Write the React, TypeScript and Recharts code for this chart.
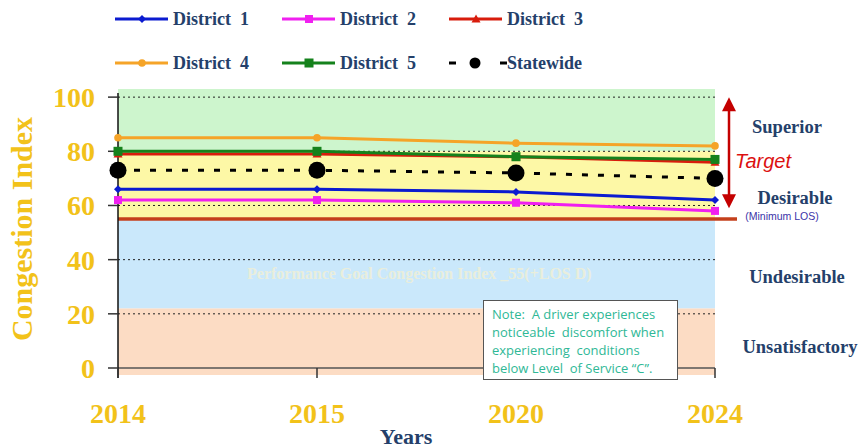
import React from 'react'
import { LineChart, Line, XAxis, YAxis, ReferenceArea, ReferenceLine } from 'recharts'

// values
const years = ['2014', '2015', '2020', '2024']
const district1 = [66, 66, 65, 62]
const district2 = [62, 62, 61, 58]
const district3 = [79, 79, 78, 76]
const district4 = [85, 85, 83, 82]
const district5 = [80, 80, 78, 77]
const statewide = [73, 73, 72, 70]
const yTicks = [0, 20, 40, 60, 80, 100]
const gridValues = [20, 40, 60, 80, 100]
const performanceGoal = 55
const targetRange = [100, 59]

// level-of-service bands (value ranges)
const superiorBand = [80, 103]
const desirableBand = [55, 80]
const undesirableBand = [22, 55]
const unsatisfactoryBand = [-2.6, 22]

const GOLD = '#f2c21a'
const NAVY = '#24406a'
const SERIF = '"Liberation Serif", "Times New Roman", serif'

const data = years.map((year, i) => ({
  year,
  d1: district1[i],
  d2: district2[i],
  d3: district3[i],
  d4: district4[i],
  d5: district5[i],
  state: statewide[i]
}))

const diamond = (color: string, r: number) => (p: any) => (
  <path key={`dm-${p.index}`} d={`M${p.cx},${p.cy - r}L${p.cx + r},${p.cy}L${p.cx},${p.cy + r}L${p.cx - r},${p.cy}Z`} fill={color} />
)
const square = (color: string, s: number) => (p: any) => (
  <rect key={`sq-${p.index}`} x={p.cx - s / 2} y={p.cy - s / 2} width={s} height={s} fill={color} />
)
const triangle = (color: string, r: number) => (p: any) => (
  <path key={`tr-${p.index}`} d={`M${p.cx},${p.cy - r}L${p.cx + r},${p.cy + r * 0.8}L${p.cx - r},${p.cy + r * 0.8}Z`} fill={color} />
)
const circle = (color: string, r: number) => (p: any) => (
  <circle key={`c-${p.index}`} cx={p.cx} cy={p.cy} r={r} fill={color} />
)

const series = [
  { key: 'd1', name: 'District  1', color: '#0b1bd0', dot: diamond('#0b1bd0', 4), dash: undefined as string | undefined },
  { key: 'd2', name: 'District  2', color: '#f020f0', dot: square('#f020f0', 8), dash: undefined },
  { key: 'd3', name: 'District  3', color: '#d81c0c', dot: triangle('#d81c0c', 4.5), dash: undefined },
  { key: 'd4', name: 'District  4', color: '#f5a428', dot: circle('#f5a428', 3.8), dash: undefined },
  { key: 'd5', name: 'District  5', color: '#15821c', dot: square('#15821c', 9), dash: undefined },
  { key: 'state', name: 'Statewide', color: '#000000', dot: circle('#000000', 8.5), dash: '6 10' }
]

const YTick = (props: any) => (
  <text x={props.x} y={props.y} dy={10} textAnchor="end" fill={GOLD} fontFamily={SERIF} fontWeight="bold" fontSize={28}>
    {props.payload.value}
  </text>
)

const XTick = (props: any) => (
  <text x={props.x} y={props.y} dy={45} textAnchor="middle" fill={GOLD} fontFamily={SERIF} fontWeight="bold" fontSize={28}>
    {props.payload.value}
  </text>
)

const TargetArrow = (p: any) => {
  const x = p.x1 + 14
  const top = p.y1
  const bottom = p.y2
  const h = 14
  const w = 7
  return (
    <g>
      <line x1={x} y1={top + h - 2} x2={x} y2={bottom - h + 2} stroke="#c40000" strokeWidth={2.5} />
      <path d={`M${x},${top}L${x + w},${top + h}L${x - w},${top + h}Z`} fill="#c40000" />
      <path d={`M${x},${bottom}L${x + w},${bottom - h}L${x - w},${bottom - h}Z`} fill="#c40000" />
    </g>
  )
}

const legendPos = [
  { x: 115, y: 19 },
  { x: 282, y: 19 },
  { x: 449, y: 19 },
  { x: 115, y: 63 },
  { x: 282, y: 63 },
  { x: 449, y: 63 }
]

function LegendBox() {
  return (
    <svg width={863} height={85} style={{ position: 'absolute', left: 0, top: 0 }}>
      {series.map((s, i) => {
        const { x, y } = legendPos[i]
        const Dot = s.dot
        if (s.key === 'state') {
          return (
            <g key={s.key}>
              <line x1={x} y1={y} x2={x + 7} y2={y} stroke="#000" strokeWidth={3} />
              <circle cx={x + 26} cy={y} r={5.5} fill="#000" />
              <line x1={x + 51} y1={y} x2={x + 58} y2={y} stroke="#000" strokeWidth={3} />
              <text x={x + 58} y={y + 6} fill={NAVY} fontFamily={SERIF} fontWeight="bold" fontSize={18}>{s.name}</text>
            </g>
          )
        }
        return (
          <g key={s.key}>
            <line x1={x} y1={y} x2={x + 53} y2={y} stroke={s.color} strokeWidth={3} />
            {Dot({ cx: x + 27, cy: y, index: i })}
            <text x={x + 58} y={y + 6} fill={NAVY} fontFamily={SERIF} fontWeight="bold" fontSize={18} xmlSpace="preserve">{s.name}</text>
          </g>
        )
      })}
    </svg>
  )
}

const bandLabel = (cx: number, cy: number): React.CSSProperties => ({
  position: 'absolute',
  left: cx - 80,
  top: cy - 12,
  width: 160,
  textAlign: 'center',
  fontFamily: SERIF,
  fontWeight: 'bold',
  fontSize: 18.5,
  color: NAVY,
  lineHeight: '24px'
})

export default function App() {
  return (
    <div style={{ position: 'absolute', left: 0, top: 0, width: 863, height: 448, background: '#fff', overflow: 'hidden' }}>
      <LineChart width={863} height={448} data={data} margin={{ top: 89, right: 126, bottom: 20, left: 8 }}>
        <ReferenceArea y1={superiorBand[0]} y2={superiorBand[1]} fill="#cdf5cd" fillOpacity={1} ifOverflow="visible" />
        <ReferenceArea y1={desirableBand[0]} y2={desirableBand[1]} fill="#fdf8a6" fillOpacity={1} ifOverflow="visible" />
        <ReferenceArea y1={undesirableBand[0]} y2={undesirableBand[1]} fill="#cae8fb" fillOpacity={1} ifOverflow="visible" />
        <ReferenceArea y1={unsatisfactoryBand[0]} y2={unsatisfactoryBand[1]} fill="#fcdcc4" fillOpacity={1} ifOverflow="visible" />
        <XAxis
          dataKey="year"
          height={60}
          padding={{ left: 0, right: 22 }}
          axisLine={false}
          tickLine={{ stroke: '#333', strokeWidth: 1.5 }}
          tickSize={10}
          tickMargin={0}
          tick={<XTick />}
        />
        <YAxis
          type="number"
          domain={[0, 103]}
          ticks={yTicks}
          width={110}
          axisLine={false}
          tickLine={{ stroke: '#333', strokeWidth: 1.5 }}
          tickSize={10}
          tickMargin={13}
          tick={<YTick />}
        />
        {gridValues.map((v) => (
          <ReferenceLine
            key={`g${v}`}
            segment={[{ x: years[0], y: v }, { x: years[years.length - 1], y: v }]}
            stroke="#222"
            strokeDasharray="2 3"
            strokeWidth={1}
          />
        ))}
        <ReferenceLine y={performanceGoal} stroke="#c4401c" strokeWidth={3.5} />
        <ReferenceLine segment={[{ x: years[0], y: 0 }, { x: years[years.length - 1], y: 0 }]} stroke="#555" strokeWidth={1.5} />
        <ReferenceLine segment={[{ x: years[0], y: 101.5 }, { x: years[0], y: -3.7 }]} stroke="#111" strokeWidth={1.5} ifOverflow="visible" />
        <ReferenceLine
          segment={[{ x: years[years.length - 1], y: targetRange[0] }, { x: years[years.length - 1], y: targetRange[1] }]}
          shape={TargetArrow}
          ifOverflow="visible"
        />
        {series.map((s) => (
          <Line
            key={s.key}
            type="linear"
            dataKey={s.key}
            name={s.name}
            stroke={s.color}
            strokeWidth={3}
            strokeDasharray={s.dash}
            dot={s.dot}
            activeDot={false}
            isAnimationActive={false}
          />
        ))}
      </LineChart>

      <LegendBox />

      <div
        style={{
          position: 'absolute',
          left: 22 - 130,
          top: 229 - 18,
          width: 260,
          height: 36,
          transform: 'rotate(-90deg)',
          textAlign: 'center',
          fontFamily: SERIF,
          fontWeight: 'bold',
          fontSize: 30,
          lineHeight: '36px',
          color: GOLD
        }}
      >
        Congestion Index
      </div>

      <div style={{ position: 'absolute', left: 316, top: 424, fontFamily: SERIF, fontWeight: 'bold', fontSize: 22, color: NAVY, width: 180, textAlign: 'center' }}>
        Years
      </div>

      <div style={{ position: 'absolute', left: 247, top: 265, whiteSpace: 'nowrap', fontFamily: SERIF, fontWeight: 'bold', fontSize: 16, color: '#e9eedc' }}>
        Performance Goal Congestion Index _55(+LOS D)
      </div>

      <div style={bandLabel(787, 127)}>Superior</div>
      <div style={bandLabel(795, 198)}>Desirable</div>
      <div style={{ position: 'absolute', left: 722, top: 210, width: 120, textAlign: 'center', fontFamily: '"Liberation Sans", Arial, sans-serif', fontSize: 10.5, color: '#3a33a8' }}>
        (Minimum LOS)
      </div>
      <div style={bandLabel(797, 277)}>Undesirable</div>
      <div style={bandLabel(800, 347)}>Unsatisfactory</div>
      <div style={{ position: 'absolute', left: 735, top: 150, fontFamily: '"Liberation Sans", Arial, sans-serif', fontStyle: 'italic', fontSize: 20, color: '#dc1010' }}>
        Target
      </div>

      <div
        style={{
          position: 'absolute',
          left: 483,
          top: 300,
          width: 195,
          height: 80,
          boxSizing: 'border-box',
          background: '#fff',
          border: '1.5px solid #555',
          padding: '4px 0 0 8px',
          fontFamily: '"Open Sans", sans-serif',
          fontSize: 13,
          lineHeight: '18px',
          color: '#2fb896',
          whiteSpace: 'nowrap'
        }}
      >
        Note:&nbsp; A driver experiences
        <br />
        noticeable&nbsp; discomfort when
        <br />
        experiencing&nbsp; conditions
        <br />
        below Level&nbsp; of Service “C”.
      </div>
    </div>
  )
}
